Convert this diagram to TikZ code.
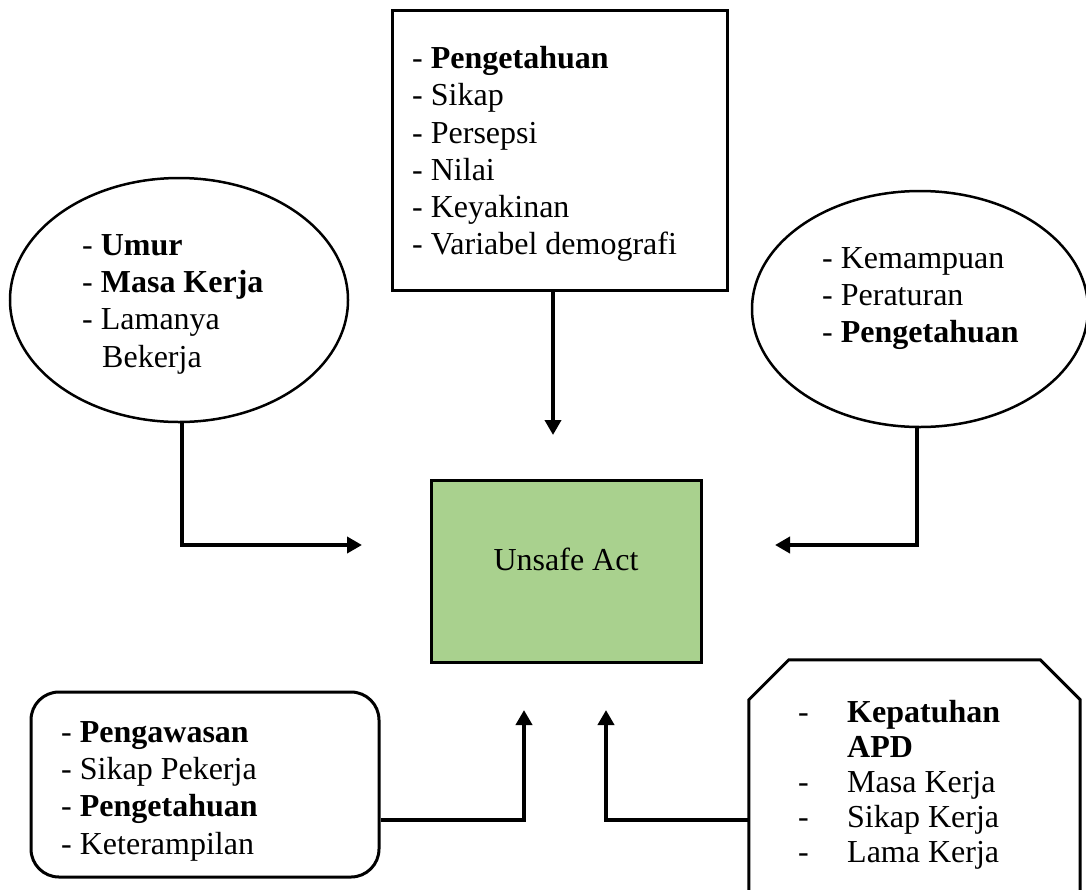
\documentclass[tikz,border=0pt]{standalone}
\usepackage{fontspec}
\setmainfont{Liberation Serif}
\usepackage{xcolor}
\usetikzlibrary{shapes.geometric,arrows.meta}

\definecolor{hijau}{HTML}{A9D18E}

\tikzset{
  kotak/.style={draw, line width=3pt, inner sep=0pt},
  lonjong/.style={draw, ellipse, line width=2.5pt, inner sep=0pt},
  teks/.style={anchor=north west, align=left, inner sep=0pt},
  panah/.style={line width=4pt, -{Triangle[width=16pt,length=15pt]}}
}

\begin{document}
\begin{tikzpicture}[x=1pt, y=-1pt, font=\fontsize{32}{37.3}\selectfont]
    
    \useasboundingbox (0,0) rectangle (1086,889);
    
    % Faktor predisposisi (atas)
    \node[kotak, minimum width=335pt, minimum height=280pt] (faktor) at (559.5,150) {};
    \node[teks] (faktortxt) at (412,46)
        {- \textbf{Pengetahuan}\\- Sikap\\- Persepsi\\- Nilai\\- Keyakinan\\- Variabel demografi};
    
    % Umur (kiri)
    \node[lonjong, minimum width=338pt, minimum height=244pt] (umur) at (179,300) {};
    \node[teks] (umurtxt) at (82,234)
        {- \textbf{Umur}\\- \textbf{Masa Kerja}\\- Lamanya\\\hspace*{20pt}Bekerja};
    
    % Kemampuan (kanan)
    \node[lonjong, minimum width=336pt, minimum height=236pt] (kemampuan) at (920,309) {};
    \node[teks] (kemampuantxt) at (822,247)
        {- Kemampuan\\- Peraturan\\- \textbf{Pengetahuan}};
    
    % Unsafe Act
    \node[kotak, fill=hijau, minimum width=270pt, minimum height=182pt] (unsafe) at (566,571.5) {};
    \node[anchor=base, inner sep=0pt] (unsafetxt) at (566,570) {Unsafe Act};
    
    % Pengawasan (kiri bawah)
    \node[kotak, rounded corners=28pt, minimum width=348pt, minimum height=185pt] (pengawasan) at (205,784.5) {};
    \node[teks] (pengawasantxt) at (61,721)
        {- \textbf{Pengawasan}\\- Sikap Pekerja\\- \textbf{Pengetahuan}\\- Keterampilan};
    
    % Kepatuhan APD (kanan bawah), sudut atas terpotong
    \node[inner sep=0pt, minimum width=331pt, minimum height=320pt] (apd) at (914.5,820) {};
    \draw[line width=3pt] (apd.south west) -- ([yshift=-40pt]apd.north west)
        -- ([xshift=40pt]apd.north west) -- ([xshift=-40pt]apd.north east)
        -- ([yshift=-40pt]apd.north east) -- (apd.south east);
    \node[teks, font=\fontsize{32}{35}\selectfont] (apdtxt) at (798,700)
        {\makebox[49pt][l]{-}\textbf{Kepatuhan}\\\hspace*{49pt}\textbf{APD}\\
         \makebox[49pt][l]{-}Masa Kerja\\\makebox[49pt][l]{-}Sikap Kerja\\
         \makebox[49pt][l]{-}Lama Kerja};
    
    % Panah
    \coordinate (ujungA) at (553,435);
    \coordinate (ujungB) at (362,545);
    \coordinate (ujungC) at (775,545);
    \coordinate (ujungD) at (524,710);
    \coordinate (ujungE) at (606,710);
    \draw[panah] (faktor.south -| ujungA) -- (ujungA);
    \draw[panah] ([xshift=3pt]umur.south) |- (ujungB);
    \draw[panah] ([xshift=-3pt]kemampuan.south) |- (ujungC);
    \draw[panah] ([yshift=-35.5pt]pengawasan.east) -| (ujungD);
    \draw[panah] (apd.west) -| (ujungE);
    
\end{tikzpicture}
\end{document}
